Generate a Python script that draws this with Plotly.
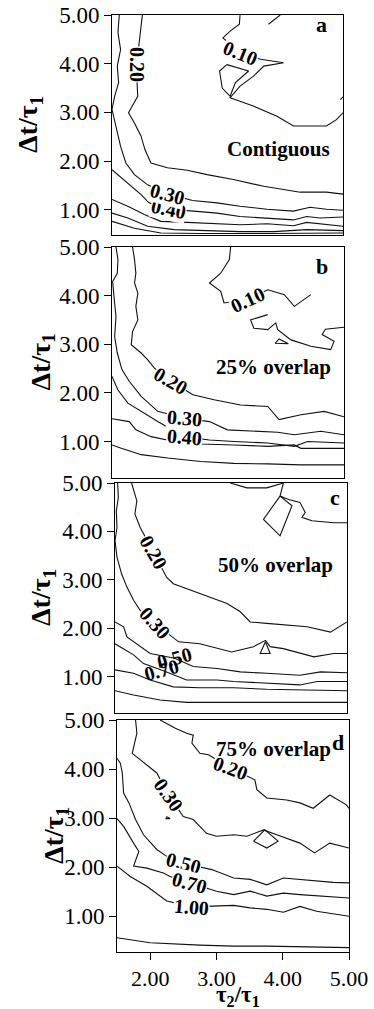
import plotly.graph_objects as go

W, H = 374, 1009
SERIF = "Liberation Serif, Times New Roman, serif"

# ---------------- data (tau2/tau1 , dt/tau1) contour lines ----------------
# Panel a : contiguous
A_010_X = [3.44, 3.43, 3.29, 3.18, 3.34, 3.54, 3.75, 4.10, 3.80, 3.64, 3.44, 3.29, 3.64, 4.00, 4.25, 4.75, 4.90, 5.00]
A_010_Y = [5.00, 4.81, 4.67, 4.53, 4.36, 4.19, 4.09, 4.02, 3.95, 3.74, 3.54, 3.30, 3.13, 2.92, 2.72, 2.72, 2.85, 2.99]
A_010B_X = [3.24, 3.57, 3.37, 3.29, 3.17, 3.13, 3.24]
A_010B_Y = [3.98, 3.85, 3.61, 3.33, 3.50, 3.85, 3.98]
A_010C_X = [3.87, 4.05]
A_010C_Y = [4.81, 5.00]
A_010D_X = [5.00, 4.96]
A_010D_Y = [3.32, 3.26]
A_020_X = [1.96, 1.93, 1.90, 1.89, 1.88, 1.89, 1.75, 1.84, 1.94, 2.00, 2.09, 2.34, 2.64, 2.94, 3.34, 3.80, 4.35, 4.75, 5.00]
A_020_Y = [5.00, 4.64, 4.29, 3.95, 3.61, 3.33, 2.99, 2.78, 2.51, 2.23, 1.96, 1.86, 1.81, 1.72, 1.62, 1.48, 1.36, 1.36, 1.32]
A_030_X = [1.61, 1.59, 1.63, 1.58, 1.60, 1.54, 1.50, 1.56, 1.63, 1.71, 1.84, 2.04, 2.34, 2.72, 3.09, 3.44, 3.85, 4.25, 4.50, 4.75, 5.00]
A_030_Y = [5.00, 4.64, 4.29, 3.95, 3.61, 3.33, 3.06, 2.68, 2.30, 1.96, 1.72, 1.51, 1.33, 1.19, 1.14, 1.07, 1.01, 0.97, 1.05, 1.01, 0.99]
A_040_X = [1.50, 1.74, 1.94, 2.06, 2.36, 2.74, 3.09, 3.44, 3.85, 4.25, 4.45, 4.65, 5.00]
A_040_Y = [1.82, 1.55, 1.31, 1.14, 1.01, 0.97, 0.93, 0.86, 0.83, 0.79, 0.86, 0.83, 0.85]
A_050_X = [1.50, 1.74, 1.99, 2.24, 2.64, 3.04, 3.44, 3.85, 4.25, 4.45, 4.65, 5.00]
A_050_Y = [1.21, 1.07, 0.90, 0.76, 0.74, 0.71, 0.69, 0.71, 0.67, 0.74, 0.71, 0.66]
A_070_X = [1.50, 1.74, 2.04, 2.44, 2.94, 3.44, 3.95, 4.45, 5.00]
A_070_Y = [0.93, 0.83, 0.66, 0.59, 0.57, 0.55, 0.55, 0.59, 0.57]
A_100_X = [1.50, 1.84, 2.24, 2.84, 3.85, 5.00]
A_100_Y = [0.76, 0.62, 0.52, 0.51, 0.51, 0.52]

# Panel b : 25% overlap
B_010_X = [3.29, 3.27, 3.14, 2.97, 3.14, 3.19, 3.54, 3.85, 4.10, 4.25, 4.50, 4.32, 4.25]
B_010_Y = [5.00, 4.74, 4.46, 4.26, 4.09, 3.85, 3.92, 4.12, 4.02, 3.78, 4.02, 3.85, 3.78]
B_010B_X = [5.00, 4.72, 4.67, 4.85, 4.80, 4.50, 4.20, 4.00, 3.97, 3.85, 3.64, 3.59, 3.85]
B_010B_Y = [3.35, 3.31, 3.20, 3.06, 2.89, 2.96, 3.09, 3.30, 3.44, 3.30, 3.33, 3.50, 3.61]
B_010C_X = [3.96, 4.02, 4.16, 3.96]
B_010C_Y = [3.02, 3.11, 3.01, 3.02]
B_020_X = [1.81, 1.84, 1.86, 1.84, 1.89, 1.86, 1.89, 1.81, 1.79, 1.94, 2.04, 2.14, 2.39, 2.72, 3.04, 3.44, 3.85, 4.02, 4.35, 4.70, 5.00]
B_020_Y = [5.00, 4.74, 4.46, 4.26, 4.05, 3.78, 3.50, 3.26, 2.99, 2.82, 2.68, 2.51, 2.24, 1.96, 1.86, 1.75, 1.72, 1.45, 1.55, 1.62, 1.51]
B_030_X = [1.56, 1.59, 1.58, 1.51, 1.53, 1.56, 1.54, 1.58, 1.65, 1.76, 1.94, 2.19, 2.59, 2.97, 3.24, 3.64, 4.00, 4.25, 4.45, 4.65, 5.00]
B_030_Y = [5.00, 4.74, 4.46, 4.29, 3.98, 3.57, 3.16, 2.82, 2.48, 2.24, 1.93, 1.62, 1.48, 1.41, 1.24, 1.21, 1.19, 1.14, 1.17, 1.21, 1.14]
B_040_X = [1.50, 1.59, 1.74, 1.99, 2.19, 2.59, 2.97, 3.34, 3.85, 4.25, 4.45, 5.00]
B_040_Y = [2.34, 2.06, 1.79, 1.58, 1.41, 1.10, 1.03, 1.00, 0.97, 0.90, 1.00, 0.97]
B_050_X = [1.50, 1.76, 1.86, 2.09, 2.44, 2.84, 3.34, 3.85, 4.25, 4.35, 5.00]
B_050_Y = [1.47, 1.41, 1.24, 1.10, 1.00, 0.95, 0.93, 0.90, 0.93, 0.86, 0.86]
B_070_X = [1.50, 1.64, 1.94, 2.34, 2.84, 3.34, 3.85, 4.35, 5.00]
B_070_Y = [0.93, 0.86, 0.73, 0.66, 0.59, 0.55, 0.54, 0.52, 0.52]

# Panel c : 50% overlap
C_010_X = [3.24, 3.49, 3.79, 4.04]
C_010_Y = [5.00, 4.90, 4.90, 5.00]
C_010B_X = [4.04, 3.99, 4.12, 4.29, 4.37, 4.32, 4.47, 4.80, 5.00]
C_010B_Y = [5.00, 4.73, 4.66, 4.60, 4.39, 4.29, 4.22, 4.18, 4.18]
C_010C_X = [3.99, 3.74, 3.99, 4.17, 3.99]
C_010C_Y = [4.73, 4.25, 3.91, 4.53, 4.73]
C_020_X = [1.75, 1.83, 1.80, 1.88, 2.08, 2.28, 2.38, 2.78, 3.19, 3.39, 3.54, 3.79, 4.19, 4.40, 4.75, 5.00]
C_020_Y = [5.00, 4.63, 4.36, 4.08, 3.57, 3.05, 2.92, 2.71, 2.51, 2.34, 2.13, 2.10, 2.06, 2.03, 1.92, 2.13]
C_030_X = [1.54, 1.55, 1.52, 1.53, 1.50, 1.53, 1.60, 1.68, 1.78, 1.88, 2.10, 2.46, 2.78, 3.26, 3.59, 3.77, 3.84, 4.04, 4.50, 4.80, 5.00]
C_030_Y = [5.00, 4.70, 4.42, 4.08, 3.81, 3.47, 3.12, 2.85, 2.58, 2.37, 2.10, 1.72, 1.68, 1.51, 1.62, 1.75, 1.62, 1.58, 1.41, 1.48, 1.48]
C_030B_X = [3.77, 3.69, 3.84, 3.77]
C_030B_Y = [1.72, 1.48, 1.48, 1.72]
C_050_X = [1.50, 1.63, 1.68, 1.88, 2.03, 2.40, 2.68, 3.04, 3.39, 3.79, 4.29, 4.60, 5.00]
C_050_Y = [2.13, 2.03, 1.82, 1.62, 1.48, 1.38, 1.21, 1.17, 1.10, 1.07, 1.03, 1.10, 1.08]
C_070_X = [1.50, 1.78, 1.93, 2.20, 2.58, 3.04, 3.29, 3.79, 4.29, 4.55, 5.00]
C_070_Y = [1.68, 1.45, 1.27, 1.14, 0.93, 0.93, 0.90, 0.86, 0.83, 0.90, 0.90]
C_100_X = [1.50, 1.78, 2.03, 2.38, 2.78, 3.29, 3.79, 4.29, 5.00]
C_100_Y = [1.14, 1.07, 0.93, 0.79, 0.77, 0.77, 0.74, 0.73, 0.71]
C_150_X = [1.50, 1.78, 2.18, 2.58, 3.29, 4.29, 5.00]
C_150_Y = [0.71, 0.62, 0.52, 0.47, 0.47, 0.47, 0.47]

# Panel d : 75% overlap
D_020_X = [2.15, 2.38, 2.55, 2.65, 2.63, 2.75, 2.88, 3.21, 3.58, 3.61, 3.76, 4.06, 4.26, 4.46, 4.71, 4.96, 5.00]
D_020_Y = [5.00, 4.83, 4.73, 4.69, 4.53, 4.32, 4.29, 4.02, 3.78, 3.58, 3.41, 3.37, 3.31, 3.20, 3.47, 3.27, 3.20]
D_030_X = [1.78, 1.80, 1.73, 1.85, 2.00, 2.10, 2.28, 2.50, 2.65, 2.85, 3.00, 3.26, 3.46, 3.71, 3.91, 4.06, 4.26, 4.48, 4.71, 5.00]
D_030_Y = [5.00, 4.73, 4.32, 4.19, 4.02, 3.92, 3.47, 3.03, 2.97, 2.69, 2.63, 2.66, 2.63, 2.76, 2.66, 2.59, 2.49, 2.29, 2.49, 2.39]
D_030B_X = [3.56, 3.73, 3.93, 3.76, 3.56]
D_030B_Y = [2.53, 2.76, 2.53, 2.39, 2.53]
D_030C_X = [2.25, 2.30, 2.24, 2.25]
D_030C_Y = [3.03, 2.99, 2.99, 3.03]
D_050_X = [1.50, 1.55, 1.58, 1.60, 1.68, 1.78, 1.90, 2.10, 2.25, 2.50, 2.93, 3.26, 3.51, 3.76, 4.01, 4.26, 4.76, 5.00]
D_050_Y = [4.22, 4.12, 3.92, 3.51, 3.31, 2.97, 2.66, 2.36, 2.22, 2.08, 1.95, 1.78, 1.75, 1.64, 1.78, 1.75, 1.69, 1.68]
D_070_X = [1.50, 1.60, 1.75, 1.83, 1.75, 1.95, 2.20, 2.30, 2.60, 3.00, 3.26, 3.51, 3.76, 4.01, 4.26, 5.00]
D_070_Y = [2.99, 2.83, 2.49, 2.32, 2.02, 1.98, 1.88, 1.81, 1.68, 1.51, 1.44, 1.51, 1.41, 1.47, 1.44, 1.37]
D_100_X = [1.50, 1.70, 1.95, 2.25, 2.63, 3.03, 3.26, 3.51, 3.76, 4.01, 4.26, 4.51, 5.00]
D_100_Y = [2.02, 1.81, 1.61, 1.31, 1.19, 1.20, 1.22, 1.17, 1.14, 1.08, 1.20, 1.10, 1.00]
D_200_X = [1.50, 1.65, 2.00, 2.75, 3.26, 3.76, 4.26, 5.00]
D_200_Y = [0.56, 0.53, 0.46, 0.41, 0.39, 0.39, 0.38, 0.36]

# contour labels: text, x, y (data units)
A_LAB = [("0.20", 1.89, 3.98), ("0.10", 3.44, 4.22), ("0.40", 2.36, 1.01), ("0.30", 2.34, 1.33)]
B_LAB = [("0.10", 3.54, 3.92), ("0.20", 2.39, 2.24), ("0.40", 2.59, 1.10), ("0.30", 2.59, 1.48)]
C_LAB = [("0.20", 2.08, 3.57), ("0.30", 2.10, 2.10), ("0.70", 2.20, 1.14), ("0.50", 2.40, 1.38)]
D_LAB = [("0.20", 3.21, 4.02), ("0.30", 2.28, 3.47), ("0.50", 2.50, 2.08), ("0.70", 2.60, 1.68), ("1.00", 2.63, 1.19)]

Y_TICKS = [1, 2, 3, 4, 5]
Y_TICK_TEXT = ["1.00", "2.00", "3.00", "4.00", "5.00"]
X_TICKS = [2, 3, 4, 5]
X_TICK_TEXT = ["2.00", "3.00", "4.00", "5.00"]
PANEL_LETTERS = ["a", "b", "c", "d"]
PANEL_NAMES = ["Contiguous", "25% overlap", "50% overlap", "75% overlap"]

# ---------------- styling / layout ----------------
A_ANG = [90, 22, 12, 15]
B_ANG = [-25, 30, 5, 5]
C_ANG = [60, 48, -15, -15]
D_ANG = [20, 55, 15, 15, 5]
C_BG = ["white", "white", "rgba(0,0,0,0)", "rgba(0,0,0,0)"]

panels = [
    dict(lines=[(A_010_X, A_010_Y), (A_010B_X, A_010B_Y), (A_010C_X, A_010C_Y), (A_010D_X, A_010D_Y),
                (A_020_X, A_020_Y), (A_030_X, A_030_Y), (A_040_X, A_040_Y), (A_050_X, A_050_Y),
                (A_070_X, A_070_Y), (A_100_X, A_100_Y)],
         labels=A_LAB, angles=A_ANG, bgs=None, px=(112, 343), py=(15, 235), yr=(0.48, 5.0),
         letter_pos=(321, 25), name_pos=(278, 149), title_x=29),
    dict(lines=[(B_010_X, B_010_Y), (B_010B_X, B_010B_Y), (B_010C_X, B_010C_Y), (B_020_X, B_020_Y),
                (B_030_X, B_030_Y), (B_040_X, B_040_Y), (B_050_X, B_050_Y), (B_070_X, B_070_Y)],
         labels=B_LAB, angles=B_ANG, bgs=None, px=(112, 344), py=(247, 478), yr=(0.25, 5.0),
         letter_pos=(322, 266), name_pos=(273, 367), title_x=42),
    dict(lines=[(C_010_X, C_010_Y), (C_010B_X, C_010B_Y), (C_010C_X, C_010C_Y), (C_020_X, C_020_Y),
                (C_030_X, C_030_Y), (C_030B_X, C_030B_Y), (C_050_X, C_050_Y), (C_070_X, C_070_Y),
                (C_100_X, C_100_Y), (C_150_X, C_150_Y)],
         labels=C_LAB, angles=C_ANG, bgs=C_BG, px=(115, 347), py=(483, 713), yr=(0.25, 5.0),
         letter_pos=(335, 497), name_pos=(275, 565), title_x=42),
    dict(lines=[(D_020_X, D_020_Y), (D_030_X, D_030_Y), (D_030B_X, D_030B_Y), (D_030C_X, D_030C_Y),
                (D_050_X, D_050_Y), (D_070_X, D_070_Y), (D_100_X, D_100_Y), (D_200_X, D_200_Y)],
         labels=D_LAB, angles=D_ANG, bgs=None, px=(117, 349), py=(720, 952), yr=(0.27, 5.0),
         letter_pos=(338, 742), name_pos=(273, 749), title_x=55),
]

fig = go.Figure()
annotations = []
layout = dict(width=W, height=H, margin=dict(l=0, r=0, t=0, b=0),
              paper_bgcolor="white", plot_bgcolor="white", showlegend=False,
              font=dict(family=SERIF, color="black"))


def paper_text(px, py, text, size, angle=0):
    return dict(x=px / W, y=1 - py / H, xref="paper", yref="paper", xanchor="center", yanchor="middle",
                text=text, showarrow=False, textangle=angle,
                font=dict(family=SERIF, size=size, color="black"))


for i, p in enumerate(panels):
    k = "" if i == 0 else str(i + 1)
    xa, ya = "x" + k, "y" + k
    for xs, ys in p["lines"]:
        fig.add_trace(go.Scatter(x=xs, y=ys, mode="lines", xaxis=xa, yaxis=ya,
                                 line=dict(color="#111111", width=1.1), hoverinfo="skip"))
    last = i == len(panels) - 1
    xdict = dict(domain=[p["px"][0] / W, p["px"][1] / W], anchor=ya, range=[1.5, 5.0],
                 showline=True, mirror=True, linecolor="black", linewidth=1,
                 showgrid=False, zeroline=False, automargin=False)
    if last:
        xdict.update(tickvals=X_TICKS, ticktext=X_TICK_TEXT, ticks="outside", ticklen=7,
                     tickcolor="black", tickfont=dict(family=SERIF, size=22, color="black"))
    else:
        xdict.update(showticklabels=False, ticks="")
    layout["xaxis" + k] = xdict
    layout["yaxis" + k] = dict(domain=[1 - p["py"][1] / H, 1 - p["py"][0] / H], anchor=xa,
                               range=list(p["yr"]), showline=True, mirror=True, linecolor="black",
                               linewidth=1, showgrid=False, zeroline=False,
                               tickvals=Y_TICKS, ticktext=Y_TICK_TEXT, ticks="outside", ticklen=7,
                               tickcolor="black", automargin=False,
                               tickfont=dict(family=SERIF, size=23, color="black"))
    bgs = p["bgs"] or ["white"] * len(p["labels"])
    for (txt, lx, ly), ang, bg in zip(p["labels"], p["angles"], bgs):
        annotations.append(dict(x=lx, y=ly, xref=xa, yref=ya, xanchor="center", yanchor="middle",
                                text="<b>" + txt + "</b>", showarrow=False,
                                textangle=ang, bgcolor=bg, borderpad=0,
                                font=dict(family=SERIF, size=20, color="black")))
    annotations.append(paper_text(p["name_pos"][0], p["name_pos"][1], "<b>" + PANEL_NAMES[i] + "</b>", 21))
    annotations.append(paper_text(p["letter_pos"][0], p["letter_pos"][1], "<b>" + PANEL_LETTERS[i] + "</b>", 22))
    annotations.append(paper_text(p["title_x"], (p["py"][0] + p["py"][1]) / 2,
                                  "<b>Δt/τ<sub>1</sub></b>", 28, angle=-90))

annotations.append(paper_text((117 + 349) / 2 + 5, 996, "<b>τ<sub>2</sub>/τ<sub>1</sub></b>", 23))
layout["annotations"] = annotations
fig.update_layout(**layout)
fig.write_html("out.html")
